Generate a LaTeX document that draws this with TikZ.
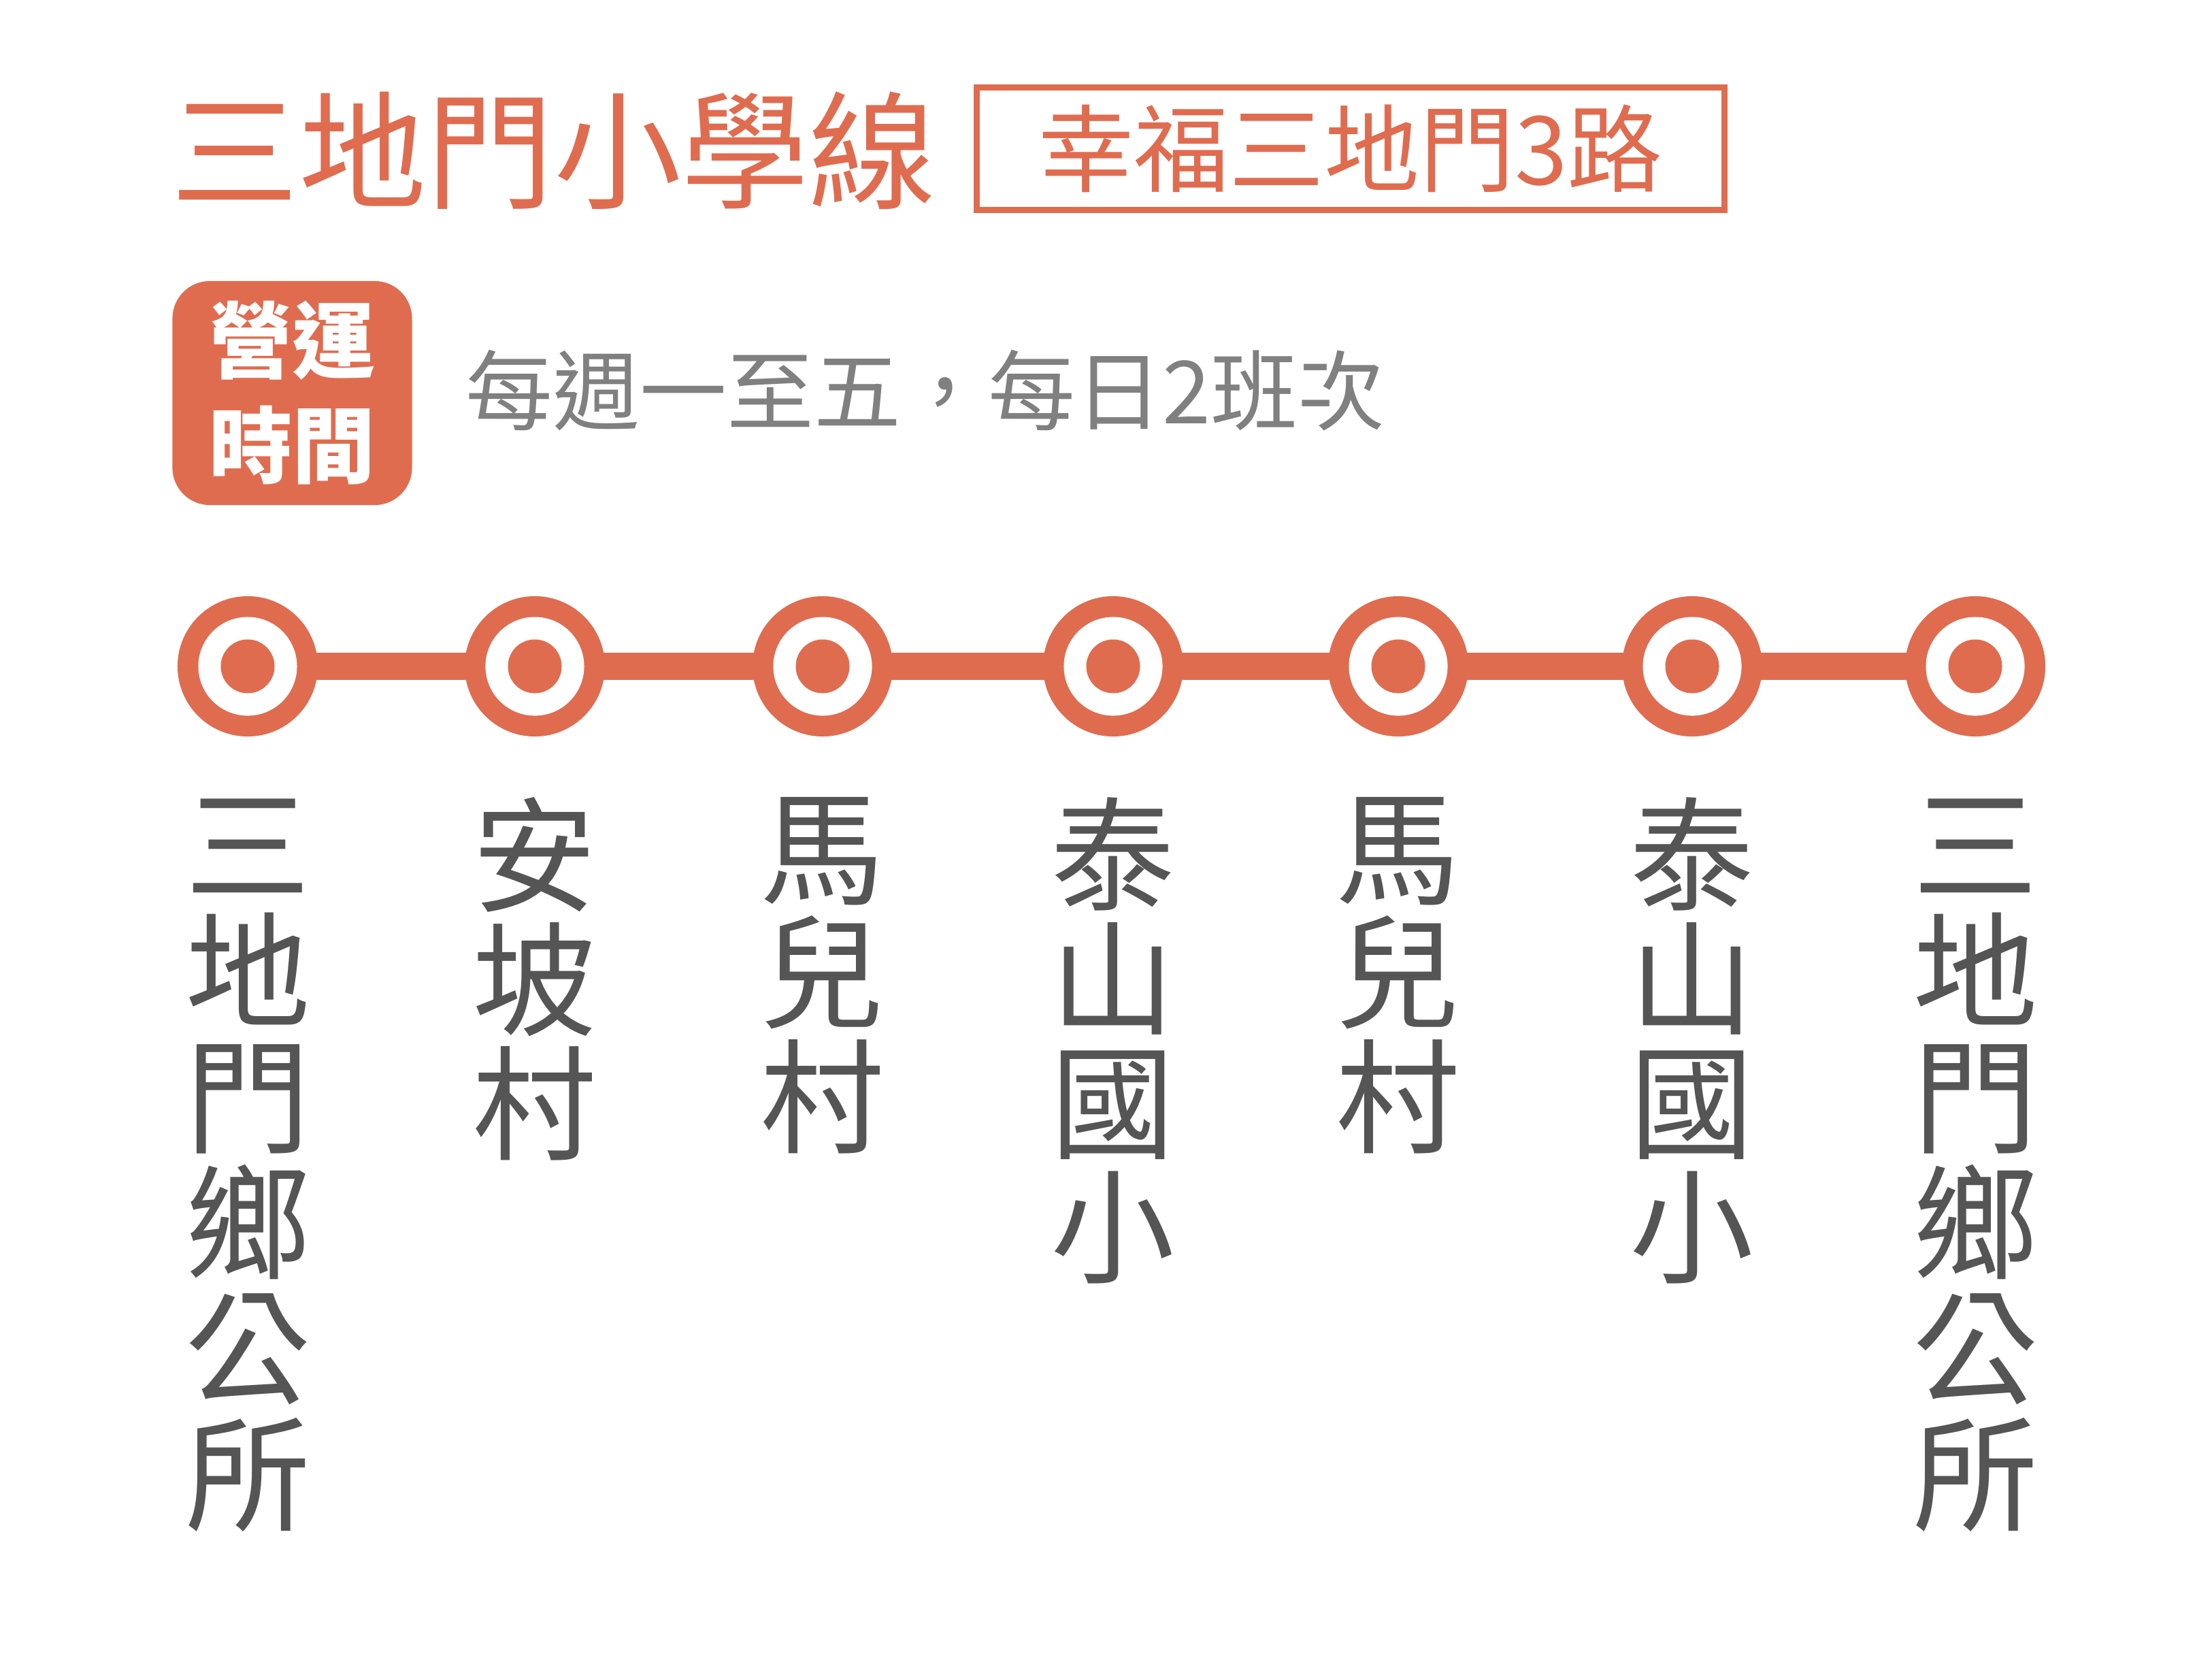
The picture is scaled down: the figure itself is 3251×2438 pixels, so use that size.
\documentclass[tikz,border=0pt]{standalone}
\usepackage{fontspec}
\setmainfont{Noto Sans CJK TC}
\usetikzlibrary{backgrounds}
\definecolor{brand}{HTML}{E06C50}
\definecolor{schedgray}{HTML}{808080}
\definecolor{labelgray}{HTML}{555555}
\begin{document}
\begin{tikzpicture}[x=0.01cm,y=-0.01cm,
  titletext/.style={text=brand, inner sep=0, anchor=center, font=\fontsize{53.3}{53.3}\selectfont},
  routebox/.style={draw=brand, line width=0.09cm, text=brand, inner sep=0,
     minimum width=10.98cm, minimum height=1.79cm, font=\fontsize{39.8}{39.8}\selectfont},
  hoursbox/.style={fill=brand, text=white, rounded corners=0.55cm, inner sep=0,
     minimum width=3.52cm, minimum height=3.29cm, align=center,
     font=\bfseries\fontsize{34.7}{43.8}\selectfont},
  schedtext/.style={text=schedgray, inner sep=0, font=\fontsize{36.4}{36.4}\selectfont},
  station/.style={circle, fill=brand, minimum size=2.06cm, inner sep=0,
     path picture={\fill[white] (path picture bounding box.center) circle (0.725cm);
                   \fill[brand] (path picture bounding box.center) circle (0.395cm);}},
  stopname/.style={text=labelgray, anchor=north, inner sep=0, align=center,
     font=\fontsize{51.8}{51.8}\selectfont},
  longstop/.style={stopname, font=\fontsize{52.3}{52.6}\selectfont},
  routeline/.style={draw=brand, line width=0.4cm}
]
\useasboundingbox (0,0) rectangle (3251,2438);

\node[titletext] (title) at (814,221) {三地門小學線};
\node[routebox] (route) at (1985,218.5) {幸福三地門3路};
\node[hoursbox] (hours) at (429.5,577.5) {營運\\時間};
\node[schedtext] (sched) at (1360,574) {每週一至五，每日2班次};

\node[station] (s1) at (364,979) {};
\node[station] (s2) at (786,979) {};
\node[station] (s3) at (1209,979) {};
\node[station] (s4) at (1636,979) {};
\node[station] (s5) at (2055,979) {};
\node[station] (s6) at (2487,979) {};
\node[station] (s7) at (2903,979) {};

\begin{scope}[on background layer]
  \draw[routeline] (s1.center) -- (s2.center) -- (s3.center) -- (s4.center)
     -- (s5.center) -- (s6.center) -- (s7.center);
\end{scope}

\node[longstop] (l1) at (364,1173) {三\\地\\門\\鄉\\公\\所};
\node[stopname] (l2) at (786,1171) {安\\坡\\村};
\node[stopname] (l3) at (1209,1171) {馬\\兒\\村};
\node[stopname] (l4) at (1636,1171) {泰\\山\\國\\小};
\node[stopname] (l5) at (2055,1171) {馬\\兒\\村};
\node[stopname] (l6) at (2487,1171) {泰\\山\\國\\小};
\node[longstop] (l7) at (2903,1173) {三\\地\\門\\鄉\\公\\所};
\end{tikzpicture}
\end{document}
